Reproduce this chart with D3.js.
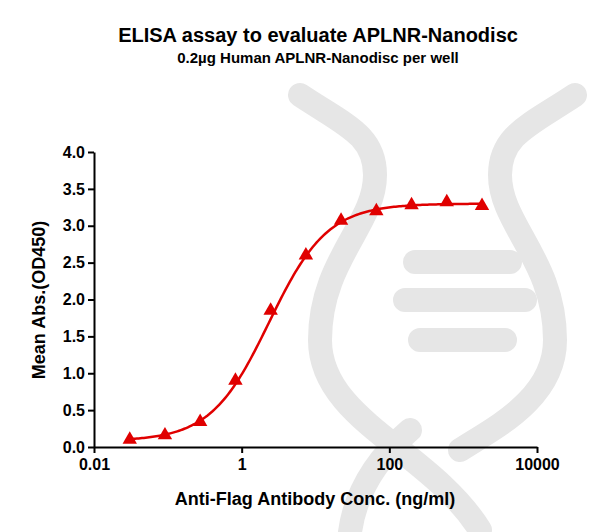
<!DOCTYPE html><html><head><script src="https://cdn.jsdelivr.net/npm/d3@7"></script>
<style>body{margin:0;background:#fff}text{font-family:"Liberation Sans",Arial,sans-serif;font-weight:bold}</style></head><body>
<svg id="c" width="600" height="532"></svg>
<script>
const conc=[0.0305,0.0914,0.274,0.823,2.47,7.41,22.2,66.7,200,600,1800];
const od=[0.10,0.16,0.34,0.90,1.85,2.60,3.07,3.20,3.28,3.32,3.27];
const fit={bottom:0.08,top:3.30,ec50:2.35,hill:1.1};
const xTicks=[0.01,1,100,10000];
const yTicks=[0,0.5,1,1.5,2,2.5,3,3.5,4];
const svg=d3.select("#c");
const wm=svg.append("g").attr("fill","none").attr("stroke","#e6e6e6").attr("stroke-width",24).attr("stroke-linecap","round");
wm.append("path").attr("d","M300,95 C345,125 375,135 375,175 C375,225 320,260 320,340 C320,420 430,450 480,530");
wm.append("path").attr("d","M575,95 C530,125 500,135 500,175 C500,225 555,260 555,340 C555,400 490,430 460,450");
wm.append("path").attr("d","M415,262 L510,262 M405,300 L525,300 M420,340 L505,340");
wm.append("path").attr("d","M410,430 C375,460 355,495 350,532");
const x=d3.scaleLog().domain([0.01,10000]).range([94,537]);
const y=d3.scaleLinear().domain([0,4]).range([447,152]);
svg.append("g").attr("transform","translate(0,447)").call(d3.axisBottom(x).tickValues(xTicks).tickFormat(d=>String(d)).tickSize(6).tickSizeOuter(0))
 .call(g=>{g.selectAll("text").attr("font-size",16).attr("fill","#000").attr("dy","0.9em");g.selectAll("line,path").attr("stroke","#000").attr("stroke-width",2);});
svg.append("g").attr("transform","translate(94,0)").call(d3.axisLeft(y).tickValues(yTicks).tickFormat(d3.format(".1f")).tickSize(6).tickSizeOuter(0))
 .call(g=>{g.selectAll("text").attr("font-size",16).attr("fill","#000");g.selectAll("line,path").attr("stroke","#000").attr("stroke-width",2);});
const xs=d3.range(0,201).map(i=>Math.pow(10,Math.log10(conc[0])+i/200*(Math.log10(conc[10])-Math.log10(conc[0]))));
const f=c=>fit.bottom+(fit.top-fit.bottom)/(1+Math.pow(fit.ec50/c,fit.hill));
svg.append("path").attr("d",d3.line().x(c=>x(c)).y(c=>y(f(c)))(xs)).attr("fill","none").attr("stroke","#e00000").attr("stroke-width",2.5);
svg.selectAll(".p").data(conc).enter().append("path").attr("d",d3.symbol(d3.symbolTriangle,90)).attr("fill","#e00000")
 .attr("transform",(c,i)=>`translate(${x(c)},${y(od[i])})`);
svg.append("text").attr("x",318).attr("y",42).attr("text-anchor","middle").attr("font-size",20).text("ELISA assay to evaluate APLNR-Nanodisc");
svg.append("text").attr("x",318).attr("y",63).attr("text-anchor","middle").attr("font-size",15).text("0.2µg Human APLNR-Nanodisc per well");
svg.append("text").attr("x",315).attr("y",505).attr("text-anchor","middle").attr("font-size",18).text("Anti-Flag Antibody Conc. (ng/ml)");
svg.append("text").attr("transform","translate(45,300) rotate(-90)").attr("text-anchor","middle").attr("font-size",18).text("Mean Abs.(OD450)");
</script></body></html>
